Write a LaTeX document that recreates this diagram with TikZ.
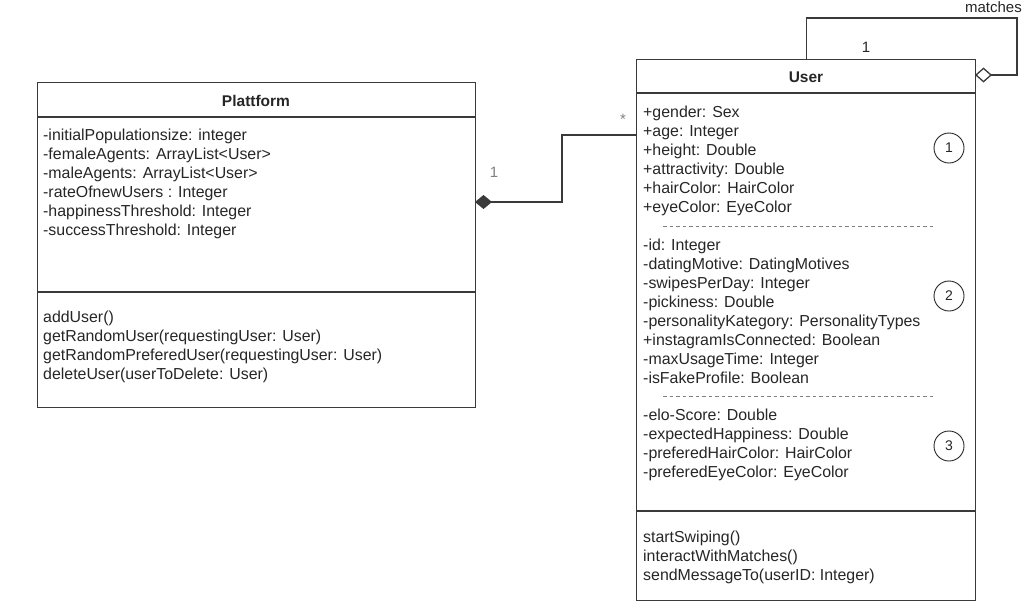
\documentclass[tikz,border=0pt]{standalone}
\usepackage{fontspec}
\setmainfont{Liberation Sans}
\usetikzlibrary{positioning, arrows.meta}
\definecolor{linegray}{HTML}{3A3A3A}
\definecolor{textgray}{HTML}{262626}
\definecolor{labelgray}{HTML}{808080}
\tikzset{
  umlbox/.style={draw=linegray, line width=1.3pt, inner sep=0pt, anchor=north west},
  boxline/.style={draw=linegray, line width=1.3pt},
  sepline/.style={draw=labelgray, line width=0.8pt, dash pattern=on 3.5pt off 3pt},
  classname/.style={font=\fontsize{15.5}{19}\selectfont\bfseries, text=textgray, inner sep=0pt},
  members/.style={anchor=north west, align=left, inner sep=0pt,
    font=\fontsize{15.9}{19}\selectfont, text=textgray},
  groupmark/.style={draw=textgray, line width=0.9pt, circle, minimum size=30pt, inner sep=0pt,
    font=\fontsize{14}{16}\selectfont, text=textgray},
  multlabel/.style={font=\fontsize{15}{18}\selectfont, inner sep=0pt},
  assoc/.style={draw=linegray, line width=1.3pt}
}
\begin{document}
\begin{tikzpicture}[x=1pt, y=-1pt]
  \useasboundingbox (0,0) rectangle (1024,611);
  % Plattform class
  \node[umlbox, minimum width=438pt, minimum height=325pt] (plat) at (37,82) {};
  \draw[boxline] (37,117) -- (475,117);
  \draw[boxline] (37,292) -- (475,292);
  \node[classname] (platname) at (256,101) {Plattform};
  \node[members] (platattr) at (43,129) {-initialPopulationsize: integer\\
    -femaleAgents: ArrayList<User>\\
    -maleAgents: ArrayList<User>\\
    -rateOfnewUsers : Integer\\
    -happinessThreshold: Integer\\
    -successThreshold: Integer};
  \node[members] (platops) at (43,311) {addUser()\\
    getRandomUser(requestingUser: User)\\
    getRandomPreferedUser(requestingUser: User)\\
    deleteUser(userToDelete: User)};
  % User class
  \node[umlbox, minimum width=339pt, minimum height=541pt] (user) at (636,59) {};
  \draw[boxline] (636,93) -- (975,93);
  \draw[boxline] (636,511) -- (975,511);
  \node[classname] (username) at (806,77) {User};
  \node[members] (userattr) at (643,106) {+gender: Sex\\
    +age: Integer\\
    +height: Double\\
    +attractivity: Double\\
    +hairColor: HairColor\\
    +eyeColor: EyeColor};
  \draw[sepline] (663,226) -- (935,226);
  \node[members] (userstate) at (643,239) {-id: Integer\\
    -datingMotive: DatingMotives\\
    -swipesPerDay: Integer\\
    -pickiness: Double\\
    -personalityKategory: PersonalityTypes\\
    +instagramIsConnected: Boolean\\
    -maxUsageTime: Integer\\
    -isFakeProfile: Boolean};
  \draw[sepline] (663,396) -- (935,396);
  \node[members] (userpref) at (643,409) {-elo-Score: Double\\
    -expectedHappiness: Double\\
    -preferedHairColor: HairColor\\
    -preferedEyeColor: EyeColor};
  \node[members] (userops) at (643,531) {startSwiping()\\
    interactWithMatches()\\
    sendMessageTo(userID: Integer)};
  % attribute groups
  \node[groupmark] (g1) at (949,148) {1};
  \node[groupmark] (g2) at (949,296) {2};
  \node[groupmark] (g3) at (949,446) {3};
  % composition Plattform -- User
  \coordinate (platend) at (475,202);
  \coordinate (userend) at (636,135);
  \draw[assoc, {Diamond[length=17pt, width=14pt, fill=linegray]}-] (platend) -- ++(87,0) |- (userend);
  \node[multlabel, text=labelgray] (platmult) at (494,172) {1};
  \node[multlabel, text=labelgray] (usermult) at (623,119) {*};
  % matches, self association
  \coordinate (userside) at (975,75);
  \draw[assoc, -{Diamond[open, length=17pt, width=15pt, fill=white]}] (user.north) |- (1017,18) |- (userside);
  \node[multlabel, text=textgray, anchor=east] (matchlabel) at (1022,7) {matches};
  \node[multlabel, text=textgray] (selfmult) at (866,47) {1};
\end{tikzpicture}
\end{document}
